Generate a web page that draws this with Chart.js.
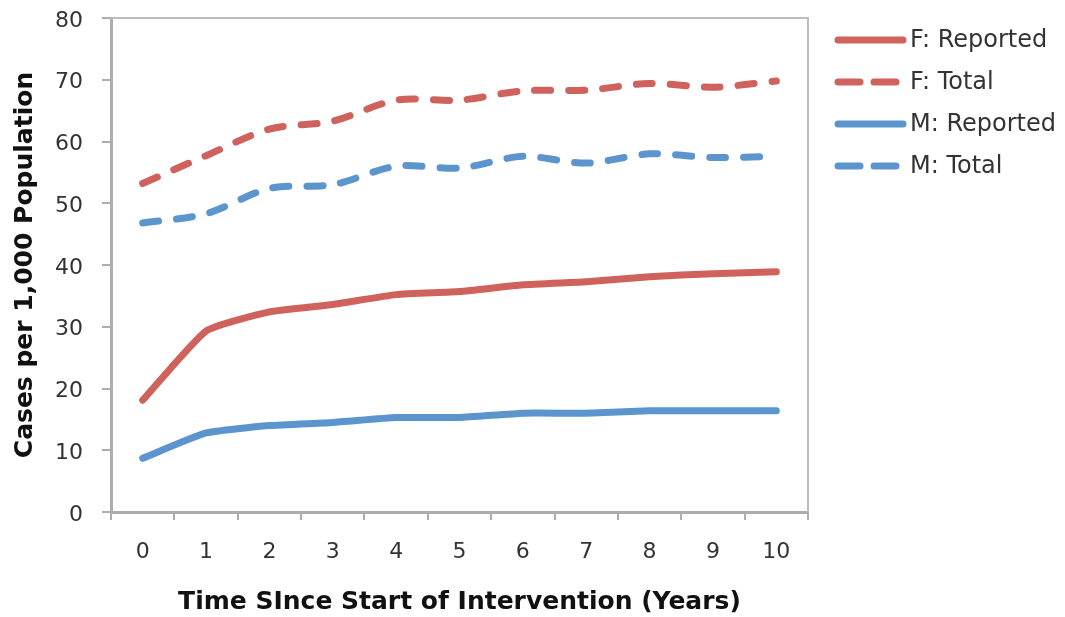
<!DOCTYPE html>
<html>
<head>
<meta charset="utf-8">
<script src="https://cdn.jsdelivr.net/npm/chart.js@4/dist/chart.umd.min.js"></script>
<style>
  html, body { margin: 0; padding: 0; background: #fff; }
  #wrap { width: 1065px; height: 617px; position: relative; }
</style>
</head>
<body>
<div id="wrap"><canvas id="c"></canvas></div>
<script>
// Years since the intervention began
const years = ['0', '1', '2', '3', '4', '5', '6', '7', '8', '9', '10'];

// Cases per 1,000 population
const femaleReported = [18.1, 29.3, 32.4, 33.6, 35.2, 35.7, 36.8, 37.3, 38.1, 38.6, 38.9];
const femaleTotal    = [53.2, 57.7, 62.0, 63.3, 66.7, 66.7, 68.2, 68.3, 69.4, 68.8, 69.8];
const maleReported   = [8.7, 12.8, 14.0, 14.5, 15.3, 15.3, 16.0, 16.0, 16.4, 16.4, 16.4];
const maleTotal      = [46.8, 48.3, 52.4, 53.0, 56.0, 55.7, 57.6, 56.5, 58.0, 57.4, 57.6];

const seriesLabels = ['F: Reported', 'F: Total', 'M: Reported', 'M: Total'];
const yTicks = [0, 10, 20, 30, 40, 50, 60, 70, 80];

const RED = '#CF625C';
const BLUE = '#5C95CD';
const AXIS = '#ADADAD';
const FONT = '"DejaVu Sans", Verdana, sans-serif';

function lineSet(label, data, color, dashed) {
  return {
    label, data,
    borderColor: color,
    backgroundColor: color,
    borderWidth: 7,
    borderCapStyle: 'round',
    borderJoinStyle: 'round',
    borderDash: dashed ? [16, 18] : [],
    pointRadius: 0,
    pointHoverRadius: 0,
    tension: dashed ? 0.3 : 0.15,
    fill: false
  };
}

// Frame on the top and right edges of the plot area
const frame = {
  id: 'frame',
  beforeDatasetsDraw(chart) {
    const { ctx, chartArea: a } = chart;
    ctx.save();
    ctx.strokeStyle = '#BDBDBD';
    ctx.lineWidth = 2;
    ctx.beginPath();
    ctx.moveTo(a.left, a.top);
    ctx.lineTo(a.right, a.top);
    ctx.lineTo(a.right, a.bottom);
    ctx.stroke();
    ctx.restore();
  }
};

// Legend to the right of the plot
const sideLegend = {
  id: 'sideLegend',
  afterDraw(chart) {
    const { ctx } = chart;
    const x0 = 838, x1 = 903, textX = 910, y0 = 40, step = 42;
    ctx.save();
    chart.data.datasets.forEach((ds, i) => {
      const y = y0 + i * step;
      ctx.strokeStyle = ds.borderColor;
      ctx.lineWidth = ds.borderWidth;
      ctx.lineCap = 'round';
      ctx.setLineDash(ds.borderDash.length ? [22, 14] : []);
      ctx.beginPath();
      ctx.moveTo(x0, y);
      ctx.lineTo(x1, y);
      ctx.stroke();
      ctx.setLineDash([]);
      ctx.fillStyle = '#333';
      ctx.font = '24px ' + FONT;
      ctx.textBaseline = 'middle';
      ctx.textAlign = 'left';
      ctx.fillText(ds.label, textX, y + 1);
    });
    ctx.restore();
  }
};

new Chart(document.getElementById('c'), {
  type: 'line',
  data: {
    labels: years,
    datasets: [
      lineSet(seriesLabels[0], femaleReported, RED, false),
      lineSet(seriesLabels[1], femaleTotal, RED, true),
      lineSet(seriesLabels[2], maleReported, BLUE, false),
      lineSet(seriesLabels[3], maleTotal, BLUE, true)
    ]
  },
  options: {
    responsive: true,
    maintainAspectRatio: false,
    animation: false,
    layout: { padding: { top: 18, right: 257, bottom: 0, left: 0 } },
    plugins: {
      legend: { display: false },
      tooltip: { enabled: false }
    },
    scales: {
      x: {
        offset: true,
        grid: {
          offset: true,
          drawOnChartArea: false,
          drawTicks: true,
          tickLength: 8,
          color: AXIS,
          lineWidth: 2
        },
        border: { color: AXIS, width: 3 },
        ticks: {
          color: '#333',
          font: { family: FONT, size: 22 },
          padding: 19,
          maxRotation: 0
        },
        title: {
          display: true,
          text: 'Time SInce Start of Intervention (Years)',
          color: '#111',
          font: { family: FONT, size: 25, weight: 'bold' },
          padding: { top: 8, bottom: 0 }
        },
        afterFit(scale) { scale.height = 105; }
      },
      y: {
        min: 0,
        max: 80,
        afterBuildTicks(scale) { scale.ticks = yTicks.map(v => ({ value: v })); },
        grid: {
          drawOnChartArea: false,
          drawTicks: true,
          tickLength: 9,
          color: AXIS,
          lineWidth: 2
        },
        border: { color: AXIS, width: 3 },
        ticks: {
          color: '#333',
          font: { family: FONT, size: 22 },
          padding: 19,
          labelOffset: 3
        },
        title: {
          display: true,
          text: 'Cases per 1,000 Population',
          color: '#111',
          font: { family: FONT, size: 25, weight: 'bold' },
          padding: { top: 10, bottom: 4 }
        },
        afterFit(scale) {
          scale.width = 111;
          scale.paddingTop = 0;
          scale.paddingBottom = 0;
        }
      }
    }
  },
  plugins: [frame, sideLegend]
});
</script>
</body>
</html>
